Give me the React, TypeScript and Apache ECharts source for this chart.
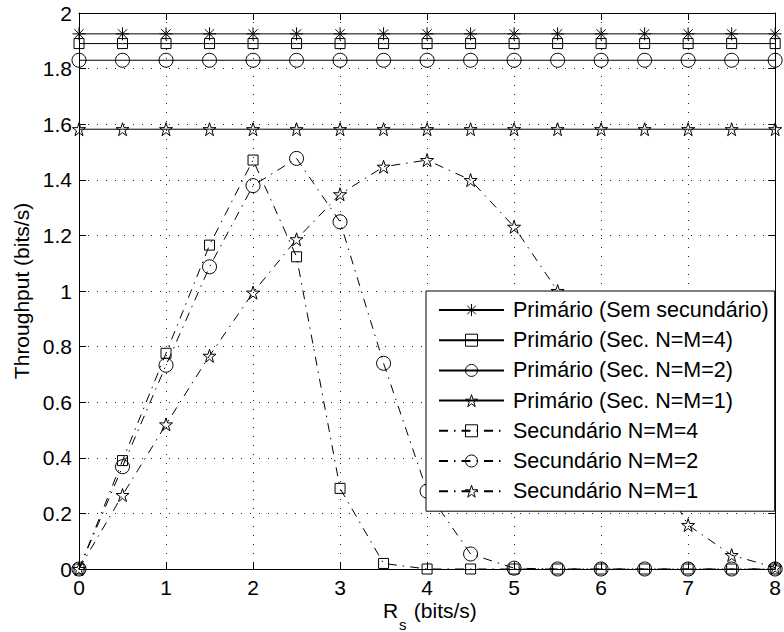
import React, { useEffect, useRef } from 'react';
import * as echarts from 'echarts';

const FONT = '"Liberation Sans", Arial, Helvetica, sans-serif';

const xValues = [0, 0.5, 1, 1.5, 2, 2.5, 3, 3.5, 4, 4.5, 5, 5.5, 6, 6.5, 7, 7.5, 8];
const xTicks = [0, 1, 2, 3, 4, 5, 6, 7, 8];
const yTicks = [0, 0.2, 0.4, 0.6, 0.8, 1, 1.2, 1.4, 1.6, 1.8, 2];

const primNoSec = [1.925, 1.925, 1.925, 1.925, 1.925, 1.925, 1.925, 1.925, 1.925, 1.925, 1.925, 1.925, 1.925, 1.925, 1.925, 1.925, 1.925];
const primSec4 = [1.89, 1.89, 1.89, 1.89, 1.89, 1.89, 1.89, 1.89, 1.89, 1.89, 1.89, 1.89, 1.89, 1.89, 1.89, 1.89, 1.89];
const primSec2 = [1.83, 1.83, 1.83, 1.83, 1.83, 1.83, 1.83, 1.83, 1.83, 1.83, 1.83, 1.83, 1.83, 1.83, 1.83, 1.83, 1.83];
const primSec1 = [1.582, 1.582, 1.582, 1.582, 1.582, 1.582, 1.582, 1.582, 1.582, 1.582, 1.582, 1.582, 1.582, 1.582, 1.582, 1.582, 1.582];
const sec4 = [0, 0.39, 0.776, 1.165, 1.471, 1.123, 0.29, 0.02, 0, 0, 0, 0, 0, 0, 0, 0, 0];
const sec2 = [0, 0.368, 0.733, 1.087, 1.379, 1.477, 1.249, 0.74, 0.28, 0.054, 0.003, 0, 0, 0, 0, 0, 0];
const sec1 = [0, 0.266, 0.52, 0.767, 0.994, 1.186, 1.348, 1.447, 1.471, 1.399, 1.231, 1.0, 0.72, 0.43, 0.158, 0.05, 0.005];

const seriesNames = [
  'Primário (Sem secundário)',
  'Primário (Sec. N=M=4)',
  'Primário (Sec. N=M=2)',
  'Primário (Sec. N=M=1)',
  'Secundário N=M=4',
  'Secundário N=M=2',
  'Secundário N=M=1',
];

const ASTERISK = 'path://M10,0 L10,20 M0,10 L20,10 M2.93,2.93 L17.07,17.07 M2.93,17.07 L17.07,2.93';
const STAR = 'path://M10,0 L12.245,6.91 L19.51,6.91 L13.633,11.18 L15.88,18.09 L10,13.82 L4.12,18.09 L6.367,11.18 L0.49,6.91 L7.755,6.91 Z';

const HOLLOW = { color: 'rgba(0,0,0,0)', borderColor: '#000', borderWidth: 1 };

export default function App() {
  const ref = useRef<HTMLDivElement>(null);
  useEffect(() => {
    if (!ref.current) return;
    const chart = echarts.init(ref.current, null, { renderer: 'svg' });
    const pairs = (ys: number[]) => xValues.map((x, i) => [x, ys[i]]);
    const dashDot = [9, 6, 1.5, 6];
    const mk = (name: string, ys: number[], symbol: string, size: number, dashed: boolean) => ({
      name,
      type: 'line',
      data: pairs(ys),
      symbol,
      symbolSize: size,
      showAllSymbol: true,
      clip: false,
      lineStyle: { color: '#000', width: 1, type: dashed ? dashDot : 'solid' },
      itemStyle: { ...HOLLOW },
      emphasis: { disabled: true },
    });
    const axisCommonX = {
      type: 'value',
      min: xTicks[0],
      max: xTicks[xTicks.length - 1],
      interval: 1,
    };
    const axisCommonY = {
      type: 'value',
      min: yTicks[0],
      max: yTicks[yTicks.length - 1],
      interval: 0.2,
    };
    const series = [
      mk(seriesNames[0], primNoSec, ASTERISK, 13, false),
      mk(seriesNames[1], primSec4, 'rect', 10, false),
      mk(seriesNames[2], primSec2, 'circle', 14, false),
      mk(seriesNames[3], primSec1, STAR, 13, false),
      mk(seriesNames[4], sec4, 'rect', 10, true),
      mk(seriesNames[5], sec2, 'circle', 14, true),
      mk(seriesNames[6], sec1, STAR, 13, true),
    ];
    chart.setOption({
      animation: false,
      backgroundColor: '#fff',
      grid: { left: 79, right: 1, top: 13, bottom: 63, containLabel: false },
      xAxis: [
        {
          ...axisCommonX,
          position: 'bottom',
          axisLine: { show: true, onZero: false, lineStyle: { color: '#000', width: 1 } },
          axisTick: { show: true, inside: true, length: 7, lineStyle: { color: '#000' } },
          axisLabel: { color: '#000', fontSize: 21, fontFamily: FONT, margin: 8 },
          splitLine: { show: true, lineStyle: { color: '#222', width: 1, type: [1, 8] } },
        },
        {
          ...axisCommonX,
          position: 'top',
          axisLine: { show: true, onZero: false, lineStyle: { color: '#000', width: 1 } },
          axisTick: { show: true, inside: true, length: 7, lineStyle: { color: '#000' } },
          axisLabel: { show: false },
          splitLine: { show: false },
        },
      ],
      yAxis: [
        {
          ...axisCommonY,
          position: 'left',
          axisLine: { show: true, onZero: false, lineStyle: { color: '#000', width: 1 } },
          axisTick: { show: true, inside: true, length: 7, lineStyle: { color: '#000' } },
          axisLabel: {
            color: '#000', fontSize: 21, fontFamily: FONT, margin: 7,
            formatter: (v: number) => String(Math.round(v * 10) / 10),
          },
          splitLine: { show: true, lineStyle: { color: '#222', width: 1, type: [1, 8] } },
        },
        {
          ...axisCommonY,
          position: 'right',
          axisLine: { show: true, onZero: false, lineStyle: { color: '#000', width: 1 } },
          axisTick: { show: true, inside: true, length: 7, lineStyle: { color: '#000' } },
          axisLabel: { show: false },
          splitLine: { show: false },
        },
      ],
      legend: {
        orient: 'vertical',
        left: 426,
        top: 291,
        itemWidth: 65,
        itemHeight: 15,
        itemGap: 6.2,
        padding: [7, 6, 8, 12],
        backgroundColor: '#fff',
        borderColor: '#000',
        borderWidth: 1,
        borderRadius: 0,
        selectedMode: false,
        itemStyle: { ...HOLLOW },
        textStyle: { fontSize: 21.5, fontFamily: FONT, color: '#000', lineHeight: 24, padding: [0, 0, 0, 4] },
        data: seriesNames,
      },
      graphic: [
        {
          type: 'text',
          x: 21,
          y: 291,
          rotation: Math.PI / 2,
          style: {
            text: 'Throughput (bits/s)',
            font: `21px ${FONT}`,
            fill: '#000',
            textAlign: 'center',
            textVerticalAlign: 'middle',
            align: 'center',
            verticalAlign: 'middle',
          },
        },
        {
          type: 'text',
          x: 383,
          y: 610.5,
          style: {
            text: 'R',
            font: `21px ${FONT}`,
            fill: '#000',
            textAlign: 'left',
            textVerticalAlign: 'middle',
            align: 'left',
            verticalAlign: 'middle',
          },
        },
        {
          type: 'text',
          x: 399,
          y: 624,
          style: {
            text: 's',
            font: `15px ${FONT}`,
            fill: '#000',
            textAlign: 'left',
            textVerticalAlign: 'middle',
            align: 'left',
            verticalAlign: 'middle',
          },
        },
        {
          type: 'text',
          x: 408,
          y: 610.5,
          style: {
            text: ' (bits/s)',
            font: `21px ${FONT}`,
            fill: '#000',
            textAlign: 'left',
            textVerticalAlign: 'middle',
            align: 'left',
            verticalAlign: 'middle',
          },
        },
      ],
      series,
    });
    return () => chart.dispose();
  }, []);
  return <div ref={ref} style={{ position: 'fixed', left: 0, top: 0, width: 784, height: 632 }} />;
}
